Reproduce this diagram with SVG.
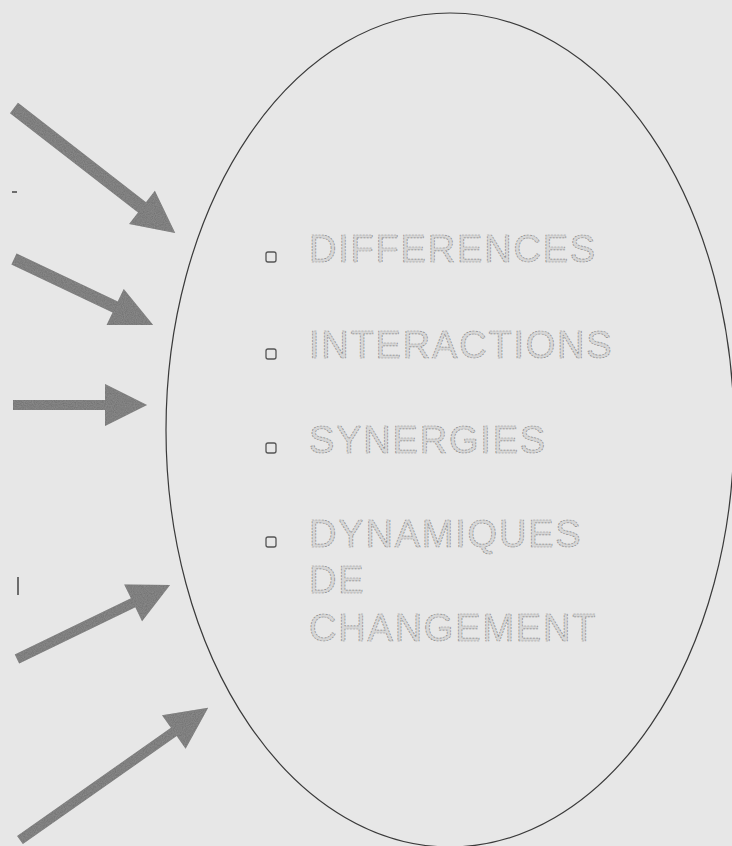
<svg xmlns="http://www.w3.org/2000/svg" width="732" height="846" viewBox="0 0 732 846">
  <defs>
    <filter id="grain" x="0" y="0" width="100%" height="100%">
      <feTurbulence type="fractalNoise" baseFrequency="0.9" numOctaves="2" seed="3" result="n"/>
      <feColorMatrix in="n" type="matrix" values="0 0 0 0 0.35  0 0 0 0 0.35  0 0 0 0 0.35  0 0 0 0.6 0" result="g"/>
      <feComposite in="g" in2="SourceGraphic" operator="in" result="gm"/>
      <feMerge><feMergeNode in="SourceGraphic"/><feMergeNode in="gm"/></feMerge>
    </filter>
  </defs>
  <style>
    .bg { fill: #e7e7e7; }
    .oval { fill: none; stroke: #3a3a3a; stroke-width: 1.2; }
    .arrow { fill: #6e6e6e; }
    .item { font-family: "Liberation Sans", Arial, sans-serif; font-size: 38px; letter-spacing: 1.8px; fill: #d6d6d6; stroke: #8a8a8a; stroke-width: 0.7; stroke-dasharray: 2 1.2; }
    .bullet { fill: none; stroke: #555; stroke-width: 1.3; }
    .mark { stroke: #444; stroke-width: 1.5; }
  </style>
  <rect class="bg" x="0" y="0" width="732" height="846"/>

  <g id="ellipse">
    <ellipse class="oval" cx="450" cy="430" rx="284" ry="417"/>
  </g>

  <g id="items">
    <g id="item-differences">
      <rect class="bullet" x="266" y="252" width="10" height="10" rx="2"/>
      <text class="item" x="309" y="262">DIFFERENCES</text>
    </g>
    <g id="item-interactions">
      <rect class="bullet" x="266" y="349" width="10" height="10" rx="2"/>
      <text class="item" x="309" y="358">INTERACTIONS</text>
    </g>
    <g id="item-synergies">
      <rect class="bullet" x="266" y="443" width="10" height="10" rx="2"/>
      <text class="item" x="309" y="453">SYNERGIES</text>
    </g>
    <g id="item-dynamiques">
      <rect class="bullet" x="266" y="537" width="10" height="10" rx="2"/>
      <text class="item" x="309" y="547">DYNAMIQUES</text>
      <text class="item" x="309" y="593">DE</text>
      <text class="item" x="309" y="641">CHANGEMENT</text>
    </g>
  </g>

  <g id="connectors" filter="url(#grain)">
    <path class="arrow" d="M0,-6.5 L162,-6.5 L162,-21 L204,0 L162,21 L162,6.5 L0,6.5 Z" transform="translate(14,108) rotate(37.8)"/>
    <path class="arrow" d="M0,-6 L112,-6 L112,-20 L154,0 L112,20 L112,6 L0,6 Z" transform="translate(14,259) rotate(25.4)"/>
    <path class="arrow" d="M0,-5 L92,-5 L92,-21 L134,0 L92,21 L92,5 L0,5 Z" transform="translate(13,405)"/>
    <path class="arrow" d="M0,-5 L129,-5 L129,-20.5 L170,0 L129,20.5 L129,5 L0,5 Z" transform="translate(17,659) rotate(-25.8)"/>
    <path class="arrow" d="M0,-5 L188,-5 L188,-20.5 L230,0 L188,20.5 L188,5 L0,5 Z" transform="translate(20,840) rotate(-35.1)"/>
  </g>

  <g id="marks">
    <line class="mark" x1="12" y1="192" x2="17" y2="192"/>
    <line class="mark" x1="18" y1="577" x2="18" y2="595"/>
  </g>
</svg>
